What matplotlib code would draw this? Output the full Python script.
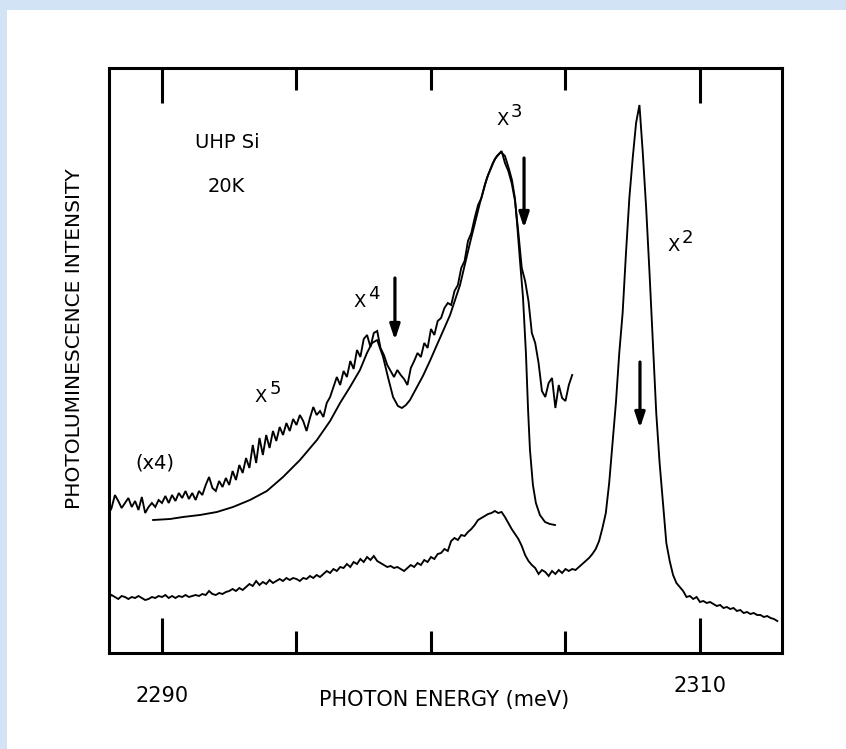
import numpy as np
import matplotlib
matplotlib.use("Agg")
import matplotlib.pyplot as plt
from matplotlib.patches import Rectangle

# ---------------- data (photon energy in meV, intensity in arbitrary units) -------------
E_START = 2288.0
E_STEP = 0.125

# full spectrum (lower trace)
lower_trace = [
    55, 58, 56, 54, 57, 56, 54, 56, 55, 57,
    55, 53, 54, 56, 55, 57, 56, 58, 55, 57,
    55, 57, 56, 58, 56, 57, 58, 57, 59, 58,
    62, 59, 58, 60, 59, 61, 62, 64, 62, 65,
    63, 66, 69, 67, 72, 68, 71, 69, 73, 70,
    72, 74, 72, 75, 73, 75, 74, 72, 75, 74,
    77, 75, 78, 76, 79, 82, 80, 84, 82, 86,
    85, 89, 86, 91, 89, 94, 91, 96, 93, 97,
    92, 90, 88, 86, 87, 85, 86, 84, 82, 85,
    88, 86, 90, 88, 93, 91, 96, 94, 99, 100,
    104, 102, 112, 115, 113, 118, 117, 121, 124, 128,
    133, 135, 137, 139, 140, 142, 140, 141, 136, 130,
    124, 119, 114, 107, 98, 92, 88, 85, 79, 83,
    81, 77, 82, 79, 83, 80, 84, 82, 84, 83,
    86, 89, 92, 95, 99, 104, 112, 125, 140, 170,
    210, 250, 300, 340, 400, 455, 495, 530, 548, 500,
    445, 380, 310, 240, 190, 150, 110, 92, 78, 70,
    66, 62, 56, 57, 54, 56, 51, 52, 50, 51,
    49, 47, 48, 45, 46, 44, 45, 42, 43, 40,
    41, 39, 40, 38, 38, 36, 37, 35, 34, 32,
]

# expanded (x4) spectrum (upper noisy trace)
upper_trace = [
    138, 145, 158, 152, 145, 150, 155, 146, 152, 143,
    156, 140, 146, 150, 146, 153, 150, 157, 150, 158,
    152, 160, 155, 162, 154, 160, 153, 162, 158, 168,
    176, 165, 162, 172, 166, 175, 168, 182, 173, 188,
    180, 195, 185, 208, 190, 215, 198, 218, 205, 222,
    212, 226, 218, 230, 222, 234, 228, 238, 232, 222,
    235, 246, 238, 242, 236, 250, 256, 266, 276, 268,
    282, 276, 292, 284, 303, 296, 314, 318, 306, 320,
    322, 305, 298, 288, 282, 276, 283, 278, 274, 268,
    285, 292, 300, 296, 310, 305, 324, 318, 332, 335,
    345, 350, 348, 362, 368, 385, 392, 412, 420, 435,
    448, 455, 468, 478, 486, 494, 498, 502, 490, 482,
    470, 452, 420, 385, 372, 352, 320, 310, 290, 262,
    256, 270, 275, 245, 268, 255, 252, 268, 278,
]

# smooth theoretical fit
fit_energy = [
    2289.67, 2290.30, 2290.78, 2291.41, 2292.04, 2292.64, 2293.27, 2293.90,
    2294.50, 2295.13, 2295.76, 2296.25, 2296.62, 2296.99, 2297.36, 2297.62,
    2297.81, 2298.00, 2298.22, 2298.40, 2298.59, 2298.77, 2298.92, 2299.07,
    2299.22, 2299.44, 2299.70, 2299.96, 2300.22, 2300.45, 2300.71, 2301.08,
    2301.45, 2301.82, 2302.08, 2302.30, 2302.45, 2302.60, 2302.75, 2302.90,
    2303.01, 2303.12, 2303.20, 2303.31, 2303.42, 2303.53, 2303.61, 2303.68,
    2303.79, 2303.90, 2304.05, 2304.24, 2304.42, 2304.61,
]
fit_intensity = [
    133, 134, 136, 138, 141, 146, 153, 162,
    176, 193, 213, 232, 250, 266, 283, 300,
    310, 313, 296, 276, 256, 247, 245, 248,
    253, 264, 277, 292, 308, 322, 338, 368,
    410, 450, 475, 490, 497, 501, 497, 484,
    473, 455, 430, 392, 356, 300, 243, 203,
    168, 150, 138, 131, 129, 128,
]

# arrows marking transitions
arrow_energy = [2298.66, 2303.46, 2307.77]
arrow_start = [375, 495, 291]
arrow_end = [313, 425, 225]

# peak labels: base letter, power, energy, intensity
peak_base = ["X", "X", "X", "X"]
peak_power = ["5", "4", "3", "2"]
peak_energy = [2293.68, 2297.36, 2302.66, 2309.03]
peak_intensity = [256, 351, 533, 407]

major_ticks = [2290, 2310]
minor_ticks = [2295, 2300, 2305]
tick_labels = ["2290", "2310"]

# ---------------- figure ----------------
W, H = 846, 749
fig = plt.figure(figsize=(W / 100, H / 100), dpi=100, facecolor="white")
plt.rcParams["font.family"] = ["DejaVu Sans"]

# scanned page border (light blue)
blue = "#d3e3f6"
fig.patches.append(Rectangle((0, 1 - 10 / H), 1, 10 / H, transform=fig.transFigure,
                             facecolor=blue, edgecolor="none", zorder=0))
fig.patches.append(Rectangle((0, 0), 7 / W, 1, transform=fig.transFigure,
                             facecolor=blue, edgecolor="none", zorder=0))

ax = fig.add_axes([109 / W, 1 - 653 / H, 673 / W, 585 / H])
ax.set_facecolor("white")

e_low = E_START + E_STEP * np.arange(len(lower_trace))
e_up = E_START + E_STEP * np.arange(len(upper_trace))

lw = 1.35
ax.plot(e_low, lower_trace, color="black", lw=lw, solid_joinstyle="miter")
ax.plot(e_up, upper_trace, color="black", lw=lw, solid_joinstyle="miter")
ax.plot(fit_energy, fit_intensity, color="black", lw=lw)

for e, s, t in zip(arrow_energy, arrow_start, arrow_end):
    ax.annotate("", xy=(e, t), xytext=(e, s),
                arrowprops=dict(arrowstyle="-|>,head_length=0.9,head_width=0.3",
                                lw=2.3, color="black", shrinkA=0, shrinkB=0))

fs_lab = 13
for b, p, e, i in zip(peak_base, peak_power, peak_energy, peak_intensity):
    ax.text(e, i, b, fontsize=fs_lab, ha="center", va="center")
    ax.text(e + 0.52, i + 8, p, fontsize=fs_lab, ha="center", va="center")

ax.text(2292.42, 510, "UHP Si", fontsize=14, ha="center", va="center")
ax.text(2292.40, 466, "20K", fontsize=14, ha="center", va="center")
ax.text(2289.74, 190, "(x4)", fontsize=14, ha="center", va="center")

ax.set_xlim(2288.03, 2313.05)
ax.set_ylim(0, 585)

ax.set_xticks(major_ticks)
ax.set_xticks(minor_ticks, minor=True)
ax.set_xticklabels([])
ax.set_yticks([])
ax.tick_params(axis="x", which="major", direction="in", length=25, width=2.2,
               top=True, bottom=True)
ax.tick_params(axis="x", which="minor", direction="in", length=16, width=2.2,
               top=True, bottom=True)
for s in ax.spines.values():
    s.set_linewidth(2.2)

# tick labels and axis titles (as placed in the original)
ax.text(major_ticks[0], -(696 - 653), tick_labels[0], fontsize=15,
        ha="center", va="center", clip_on=False)
ax.text(major_ticks[1], -(686 - 653), tick_labels[1], fontsize=15,
        ha="center", va="center", clip_on=False)
ax.text(2300.5, -(700 - 653), "PHOTON ENERGY (meV)", fontsize=15,
        ha="center", va="center", clip_on=False)
ax.text((75 - 109) / 673, (653 - 339) / 585, "PHOTOLUMINESCENCE INTENSITY",
        fontsize=14.5, rotation=90, ha="center", va="center",
        transform=ax.transAxes, clip_on=False)

fig.savefig("out.png", dpi=100, facecolor=fig.get_facecolor())
